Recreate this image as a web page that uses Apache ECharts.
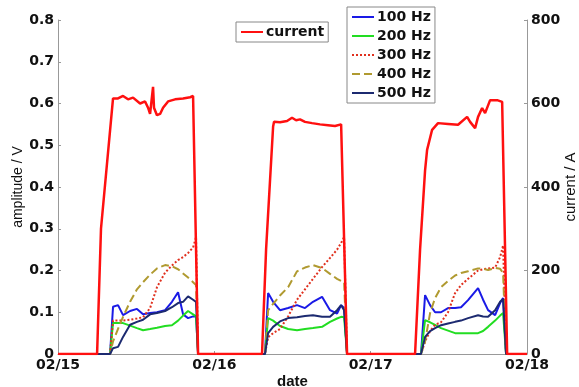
<!DOCTYPE html>
<html>
<head>
<meta charset="utf-8">
<script src="https://cdn.jsdelivr.net/npm/echarts@6/dist/echarts.min.js"></script>
<style>
  html, body { margin: 0; padding: 0; background: #fff; }
  #chart { width: 579px; height: 387px; }
</style>
</head>
<body>
<div id="chart"></div>
<script>
// x tick labels (days since 02/15)
var dateLabels = ['02/15', '02/16', '02/17', '02/18'];

// current / A (right axis)
var curT = [0, 0.250, 0.275, 0.352, 0.384, 0.416, 0.448, 0.480, 0.525, 0.557, 0.576, 0.589, 0.608, 0.614, 0.633, 0.653, 0.672, 0.704, 0.749, 0.800, 0.845, 0.864, 0.896,
            1.305, 1.331, 1.376, 1.382, 1.420, 1.465, 1.497, 1.523, 1.548, 1.580, 1.625, 1.676, 1.727, 1.772, 1.811, 1.823, 1.849,
            2.284, 2.316, 2.348, 2.361, 2.393, 2.431, 2.495, 2.559, 2.617, 2.636, 2.668, 2.687, 2.713, 2.732, 2.764, 2.809, 2.841, 2.847, 2.873, 3.0];
var current = [0, 0, 300, 612, 612, 618, 610, 614, 600, 605, 590, 575, 640, 590, 572, 575, 590, 605, 610, 612, 615, 618, 0,
               0, 250, 545, 556, 555, 558, 566, 560, 562, 556, 553, 550, 548, 546, 550, 548, 0,
               0, 250, 440, 489, 537, 553, 551, 549, 568, 556, 541, 568, 589, 577, 608, 608, 604, 600, 0, 0];

// amplitude / V (left axis), sampled on a shared time grid
var freqT = [0,
  0.313, 0.333, 0.352, 0.384, 0.416, 0.461, 0.505, 0.544, 0.589, 0.633, 0.685, 0.729, 0.768, 0.800, 0.832, 0.864, 0.883, 0.896,
  1.305, 1.324, 1.344, 1.376, 1.420, 1.472, 1.529, 1.580, 1.631, 1.689, 1.740, 1.785, 1.811, 1.830, 1.849,
  2.303, 2.322, 2.348, 2.380, 2.412, 2.450, 2.495, 2.540, 2.578, 2.623, 2.687, 2.719, 2.751, 2.796, 2.828, 2.847, 2.866,
  3.0];
var hz100 = [0,
  0, 0, 0.113, 0.117, 0.093, 0.103, 0.108, 0.095, 0.098, 0.100, 0.105, 0.125, 0.148, 0.095, 0.086, 0.090, 0.090, 0,
  0, 0, 0.146, 0.125, 0.105, 0.110, 0.117, 0.110, 0.125, 0.137, 0.105, 0.097, 0.117, 0.110, 0,
  0, 0, 0.141, 0.117, 0.100, 0.100, 0.110, 0.110, 0.112, 0.129, 0.158, 0.130, 0.105, 0.093, 0.122, 0.134, 0,
  0];
var hz200 = [0,
  0, 0, 0.074, 0.074, 0.074, 0.068, 0.062, 0.057, 0.060, 0.063, 0.067, 0.069, 0.080, 0.092, 0.103, 0.095, 0.090, 0,
  0, 0, 0.086, 0.080, 0.067, 0.060, 0.057, 0.060, 0.062, 0.065, 0.077, 0.085, 0.089, 0.088, 0,
  0, 0, 0.081, 0.076, 0.070, 0.062, 0.056, 0.050, 0.050, 0.050, 0.050, 0.055, 0.065, 0.080, 0.092, 0.098, 0,
  0];
var hz300 = [0,
  0, 0, 0.080, 0.080, 0.080, 0.082, 0.085, 0.088, 0.110, 0.160, 0.195, 0.212, 0.225, 0.232, 0.242, 0.255, 0.280, 0,
  0, 0, 0.040, 0.050, 0.060, 0.090, 0.130, 0.155, 0.180, 0.208, 0.230, 0.250, 0.266, 0.280, 0,
  0, 0, 0.030, 0.055, 0.070, 0.076, 0.100, 0.146, 0.165, 0.180, 0.200, 0.203, 0.205, 0.207, 0.232, 0.260, 0,
  0];
var hz400 = [0,
  0, 0, 0.030, 0.060, 0.089, 0.125, 0.155, 0.172, 0.190, 0.205, 0.213, 0.210, 0.203, 0.193, 0.183, 0.172, 0.165, 0,
  0, 0, 0.105, 0.120, 0.140, 0.160, 0.198, 0.207, 0.213, 0.206, 0.192, 0.180, 0.175, 0.172, 0,
  0, 0, 0.030, 0.098, 0.134, 0.160, 0.175, 0.188, 0.194, 0.198, 0.205, 0.204, 0.201, 0.206, 0.204, 0.194, 0,
  0];
var hz500 = [0,
  0, 0, 0.014, 0.017, 0.041, 0.070, 0.077, 0.082, 0.095, 0.098, 0.103, 0.112, 0.122, 0.125, 0.138, 0.130, 0.125, 0,
  0, 0, 0.050, 0.065, 0.078, 0.086, 0.088, 0.091, 0.093, 0.089, 0.089, 0.105, 0.117, 0.105, 0,
  0, 0, 0.041, 0.055, 0.062, 0.069, 0.073, 0.077, 0.080, 0.086, 0.093, 0.090, 0.089, 0.105, 0.125, 0.132, 0,
  0];

function pairs(t, v) {
  return t.map(function (x, i) { return [x, v[i]]; });
}

var font = 'Liberation Sans, Arial, sans-serif';
var boldFont = 'DejaVu Sans, Liberation Sans, sans-serif';

function freqSeries(name, vals, color, type) {
  return {
    name: name,
    type: 'line',
    yAxisIndex: 0,
    symbol: 'none',
    data: pairs(freqT, vals),
    lineStyle: { color: color, width: 2, type: type },
    itemStyle: { color: color },
    z: 2
  };
}

var legendBase = {
  orient: 'vertical',
  itemWidth: 22, itemHeight: 12,
  itemGap: 5,
  padding: [3, 4, 3, 4],
  borderColor: '#888', borderWidth: 1,
  backgroundColor: '#fff',
  itemStyle: { opacity: 0 },
  textStyle: { fontSize: 14, fontWeight: 'bold', color: '#111', fontFamily: boldFont, padding: [0, 0, 0, -2] }
};

var tickLabel = { margin: 4, fontSize: 14, fontWeight: 'bold', color: '#111', fontFamily: boldFont };

var myChart = echarts.init(document.getElementById('chart'));
var option = {
  backgroundColor: '#fff',
  animation: false,
  textStyle: { fontFamily: font },
  grid: { left: 58, right: 52, top: 20, bottom: 33, outerBoundsMode: 'none', containLabel: false },
  legend: [
    Object.assign({}, legendBase, { data: ['current'], left: 236, top: 22 }),
    Object.assign({}, legendBase, {
      data: ['100 Hz', '200 Hz', '300 Hz', '400 Hz', '500 Hz'],
      left: 347, top: 7
    })
  ],
  xAxis: {
    type: 'value',
    min: 0, max: 3, interval: 1,
    name: 'date', nameLocation: 'middle', nameGap: 20, nameMoveOverlap: false,
    nameTextStyle: { fontSize: 15, fontWeight: 'bold', color: '#111' },
    axisLine: { lineStyle: { color: '#999' } },
    axisTick: { inside: true, length: 3, lineStyle: { color: '#999' } },
    splitLine: { show: false },
    axisLabel: Object.assign({}, tickLabel, {
      formatter: function (v) { return dateLabels[Math.round(v)]; }
    })
  },
  yAxis: [
    {
      type: 'value',
      min: 0, max: 0.8, interval: 0.1,
      name: 'amplitude / V', nameLocation: 'middle', nameGap: 33, nameMoveOverlap: false,
      nameTextStyle: { fontSize: 14, color: '#111' },
      axisLine: { show: true, lineStyle: { color: '#999' } },
      axisTick: { show: true, inside: true, length: 3, lineStyle: { color: '#999' } },
      splitLine: { show: false },
      axisLabel: tickLabel
    },
    {
      type: 'value',
      min: 0, max: 800, interval: 200,
      name: 'current / A', nameLocation: 'middle', nameGap: 36, nameMoveOverlap: false,
      nameTextStyle: { fontSize: 15, color: '#111' },
      axisLine: { show: true, lineStyle: { color: '#999' } },
      axisTick: { show: true, inside: true, length: 3, lineStyle: { color: '#999' } },
      splitLine: { show: false },
      axisLabel: tickLabel
    }
  ],
  series: [
    freqSeries('100 Hz', hz100, '#1a1ae6', 'solid'),
    freqSeries('200 Hz', hz200, '#22dd22', 'solid'),
    freqSeries('300 Hz', hz300, '#e0301e', 'dotted'),
    freqSeries('400 Hz', hz400, '#b09a30', 'dashed'),
    freqSeries('500 Hz', hz500, '#1c2a70', 'solid'),
    {
      name: 'current',
      type: 'line',
      yAxisIndex: 1,
      symbol: 'none',
      data: pairs(curT, current),
      lineStyle: { color: '#ff1010', width: 2.5 },
      itemStyle: { color: '#ff1010' },
      z: 3
    }
  ]
};
myChart.setOption(option);
</script>
</body>
</html>
